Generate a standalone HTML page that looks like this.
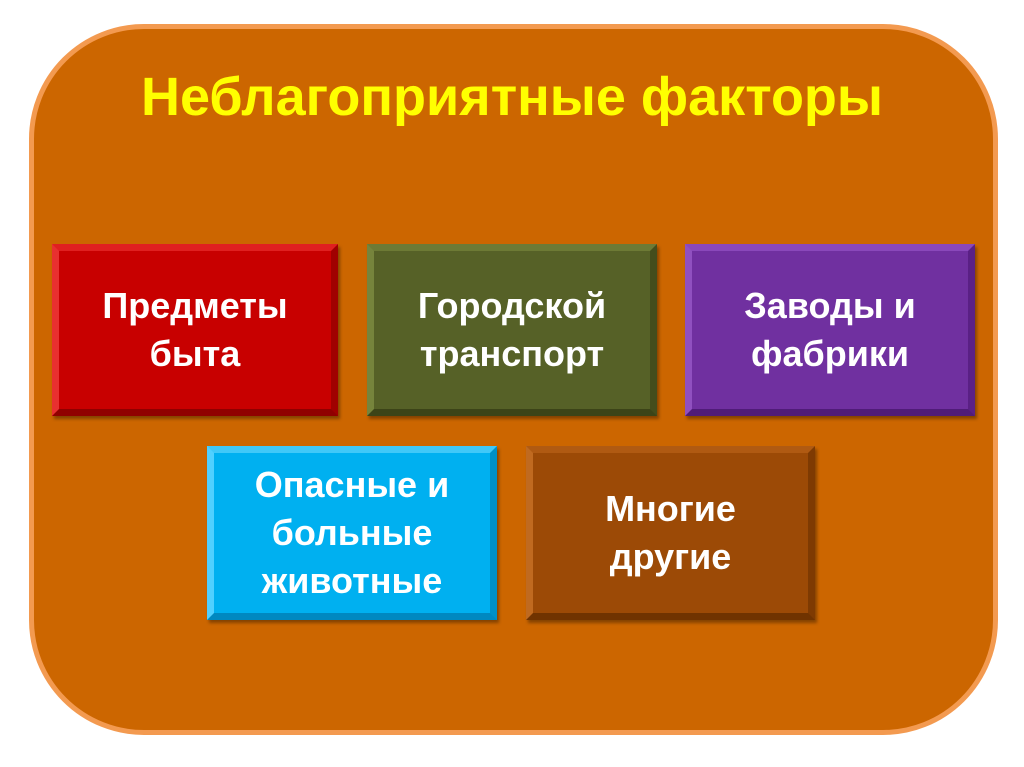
<!DOCTYPE html>
<html><head><meta charset="utf-8"><style>
body{margin:0;width:1024px;height:767px;background:#fff;overflow:hidden;font-family:"Liberation Sans","DejaVu Sans",sans-serif;}
.panel{position:absolute;left:29px;top:24px;width:959px;height:701px;background:#cc6600;border:5px solid #f39a50;border-radius:115px;}
.title{position:absolute;left:0;width:1024px;top:67px;text-align:center;color:#ffff00;font-weight:bold;font-size:54px;line-height:60px;}
.b{position:absolute;display:flex;align-items:center;justify-content:center;text-align:center;color:#fff;font-weight:bold;font-size:36px;line-height:48px;box-sizing:border-box;border:7px solid;box-shadow:2px 3px 3px rgba(0,0,0,.35);}
</style></head><body>
<div class="panel"></div>
<div class="title">Неблагоприятные факторы</div>
<div class="b" style="left:52px;top:244px;width:286px;height:172px;background:#c80000;border-color:#e02020 #a00000 #900000 #e83030;">Предметы<br>быта</div>
<div class="b" style="left:367px;top:244px;width:290px;height:172px;background:#566127;border-color:#6d7a35 #444d1c #3c4418 #76843c;">Городской<br>транспорт</div>
<div class="b" style="left:685px;top:244px;width:290px;height:172px;background:#7030a0;border-color:#8a48bb #5a2085 #501c78 #9050c0;">Заводы и<br>фабрики</div>
<div class="b" style="left:207px;top:446px;width:290px;height:174px;background:#00b0f0;border-color:#40c8f8 #0090c8 #0088c0 #50d0ff;">Опасные и<br>больные<br>животные</div>
<div class="b" style="left:526px;top:446px;width:289px;height:174px;background:#9c4a06;border-color:#b05a12 #7e3a02 #703300 #c06a20;">Многие<br>другие</div>
</body></html>
